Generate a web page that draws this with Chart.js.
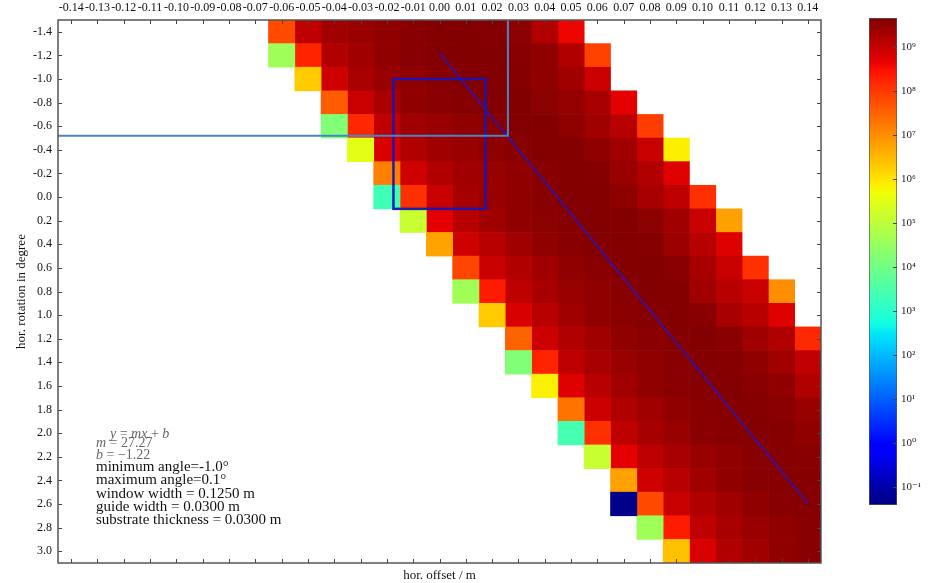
<!DOCTYPE html>
<html>
<head>
<meta charset="utf-8">
<script src="https://cdn.jsdelivr.net/npm/chart.js@4.4.0/dist/chart.umd.min.js"></script>
<style>
    html, body { margin: 0; padding: 0; background: #fff; }
    #wrap { position: relative; width: 935px; height: 583px; overflow: hidden; }
    #heatmap { position: absolute; left: 0; top: 0; }
    #colorbar { position: absolute; left: 840px; top: 0; }
</style>
</head>
<body>
<div id="wrap">
    <canvas id="heatmap" width="935" height="583"></canvas>
    <canvas id="colorbar" width="95" height="583"></canvas>
</div>
<script>
// columns (hor. offset / m) and rows (hor. rotation in degree)
const offsets = [-0.14, -0.13, -0.12, -0.11, -0.10, -0.09, -0.08, -0.07, -0.06, -0.05, -0.04, -0.03, -0.02, -0.01,
    0.00, 0.01, 0.02, 0.03, 0.04, 0.05, 0.06, 0.07, 0.08, 0.09, 0.10, 0.11, 0.12, 0.13, 0.14];
const angles = [-1.4, -1.2, -1.0, -0.8, -0.6, -0.4, -0.2, 0.0, 0.2, 0.4, 0.6, 0.8, 1.0,
    1.2, 1.4, 1.6, 1.8, 2.0, 2.2, 2.4, 2.6, 2.8, 3.0];

// index of the first filled offset in each row
const first_offset_index = [8, 8, 9, 10, 10, 11, 12, 12, 13, 14, 15, 15, 16, 17, 17, 18, 19, 19, 20, 21, 21, 22, 23];

// log10 of the counts, one list per row, starting at first_offset_index
const log_counts = [
    [7.8, 9.05, 9.34, 9.42, 9.5, 9.58, 9.62, 9.64, 9.62, 9.55, 9.19, 8.6],
    [4.6, 8.25, 9.19, 9.34, 9.5, 9.58, 9.62, 9.64, 9.64, 9.58, 9.5, 9.19, 7.9],
    [6.3, 8.9, 9.27, 9.42, 9.5, 9.58, 9.62, 9.64, 9.6, 9.5, 9.34, 8.93],
    [7.6, 8.97, 9.27, 9.5, 9.56, 9.6, 9.64, 9.64, 9.55, 9.45, 9.27, 8.69],
    [4.2, 8.2, 9.05, 9.34, 9.42, 9.5, 9.58, 9.62, 9.64, 9.52, 9.34, 9.12, 7.95],
    [5.5, 8.81, 9.19, 9.34, 9.42, 9.52, 9.58, 9.62, 9.62, 9.5, 9.34, 8.97, 5.85],
    [7.17, 8.9, 9.19, 9.34, 9.42, 9.5, 9.58, 9.62, 9.6, 9.42, 9.19, 8.75],
    [3.33, 8.1, 8.97, 9.27, 9.42, 9.5, 9.58, 9.62, 9.62, 9.52, 9.27, 9.05, 8.1],
    [5.14, 8.69, 9.12, 9.34, 9.5, 9.55, 9.6, 9.62, 9.62, 9.55, 9.34, 8.97, 6.78],
    [6.75, 8.9, 9.12, 9.34, 9.5, 9.58, 9.62, 9.62, 9.6, 9.38, 9.12, 8.75],
    [7.86, 8.97, 9.19, 9.34, 9.5, 9.58, 9.62, 9.64, 9.58, 9.27, 8.97, 8.1],
    [4.62, 8.35, 9.05, 9.27, 9.42, 9.5, 9.58, 9.62, 9.62, 9.34, 9.12, 8.97, 7.0],
    [6.3, 8.81, 9.12, 9.34, 9.5, 9.56, 9.6, 9.62, 9.58, 9.27, 9.12, 8.75],
    [7.5, 8.93, 9.19, 9.34, 9.5, 9.56, 9.6, 9.62, 9.56, 9.34, 9.19, 8.2],
    [4.2, 8.25, 9.05, 9.27, 9.42, 9.5, 9.58, 9.62, 9.6, 9.5, 9.34, 9.05],
    [5.84, 8.75, 9.12, 9.34, 9.5, 9.56, 9.6, 9.62, 9.58, 9.5, 9.19],
    [7.3, 8.93, 9.19, 9.34, 9.5, 9.58, 9.6, 9.6, 9.56, 9.42],
    [3.4, 8.1, 9.05, 9.27, 9.42, 9.56, 9.6, 9.62, 9.6, 9.5],
    [5.14, 8.69, 9.05, 9.27, 9.42, 9.5, 9.58, 9.6, 9.58],
    [6.78, 8.9, 9.12, 9.34, 9.5, 9.58, 9.6, 9.6],
    [-1.33, 7.8, 8.97, 9.19, 9.34, 9.5, 9.58, 9.6],
    [4.6, 8.35, 9.05, 9.27, 9.42, 9.5, 9.58],
    [6.4, 8.81, 9.19, 9.34, 9.5, 9.58]
];

// colour scale range (log10) and colorbar ticks
const log_count_min = -1.41;
const log_count_max = 9.66;
const colorbar_ticks = [1e-1, 1e0, 1e1, 1e2, 1e3, 1e4, 1e5, 1e6, 1e7, 1e8, 1e9];

// fit line y = m x + b and the marked regions
const fit_m = 27.27;
const fit_b = -1.22;
const fit_x_range = [0.0, 0.14];
const guide_box_x = [-0.0175, 0.0175];
const guide_box_y = [-1.0, 0.1];
const cut_point = [0.026, -0.52];

const min_angle = -1.0;
const max_angle = 0.1;
const window_width = 0.125;
const guide_width = 0.03;
const substrate_thickness = 0.03;

const serif = "'Liberation Serif', 'DejaVu Serif', serif";

// matplotlib jet
const jet_segments = {
    r: [[0, 0], [0.35, 0], [0.66, 1], [0.89, 1], [1, 0.5]],
    g: [[0, 0], [0.125, 0], [0.375, 1], [0.64, 1], [0.91, 0], [1, 0]],
    b: [[0, 0.5], [0.11, 1], [0.34, 1], [0.65, 0], [1, 0]]
};

function interp(seg, t) {
    for (let i = 1; i < seg.length; i++) {
        if (t <= seg[i][0]) {
            const [t0, v0] = seg[i - 1];
            const [t1, v1] = seg[i];
            return v0 + (v1 - v0) * (t - t0) / (t1 - t0);
        }
    }
    return seg[seg.length - 1][1];
}

function jet(t) {
    t = Math.min(1, Math.max(0, t));
    const r = Math.round(255 * interp(jet_segments.r, t));
    const g = Math.round(255 * interp(jet_segments.g, t));
    const b = Math.round(255 * interp(jet_segments.b, t));
    return `rgb(${r}, ${g}, ${b})`;
}

function color_for(log_value) {
    return jet((log_value - log_count_min) / (log_count_max - log_count_min));
}

// one floating-bar dataset per offset column
const half_cell = (offsets[1] - offsets[0]) / 2;
const datasets = offsets.map((off, col) => {
    const data = [];
    const colors = [];
    angles.forEach((a, row) => {
        const k = col - first_offset_index[row];
        const v = k >= 0 ? log_counts[row][k] : undefined;
        if (v !== undefined) {
            data.push([off - half_cell, off + half_cell]);
            colors.push(color_for(v));
        } else {
            data.push(null);
            colors.push('rgba(0,0,0,0)');
        }
    });
    return {
        data: data,
        backgroundColor: colors,
        borderWidth: 0,
        grouped: false,
        categoryPercentage: 1,
        barPercentage: 1
    };
});

function angle_to_index(a) {
    return (a - angles[0]) / (angles[1] - angles[0]);
}

function draw_math(ctx, text, x, y, size) {
    // letters italic, everything else upright
    let px = x;
    for (const ch of text) {
        const italic = /[a-z]/.test(ch);
        ctx.font = (italic ? 'italic ' : '') + size + 'px ' + serif;
        ctx.fillText(ch, px, y);
        px += ctx.measureText(ch).width;
    }
}

const overlay_plugin = {
    id: 'overlays',
    afterDatasetsDraw(chart) {
        const {ctx, chartArea: area, scales: {x, y}} = chart;
        const ypx = a => y.getPixelForValue(angle_to_index(a));
        ctx.save();

        // fit line
        ctx.strokeStyle = 'rgba(40, 20, 190, 0.8)';
        ctx.lineWidth = 2;
        ctx.beginPath();
        ctx.moveTo(x.getPixelForValue(fit_x_range[0]), ypx(fit_m * fit_x_range[0] + fit_b));
        ctx.lineTo(x.getPixelForValue(fit_x_range[1]), ypx(fit_m * fit_x_range[1] + fit_b));
        ctx.stroke();

        // guide box
        ctx.strokeStyle = 'rgba(25, 20, 180, 0.95)';
        ctx.lineWidth = 2.5;
        const bx0 = x.getPixelForValue(guide_box_x[0]);
        const bx1 = x.getPixelForValue(guide_box_x[1]);
        const by0 = ypx(guide_box_y[0]);
        const by1 = ypx(guide_box_y[1]);
        ctx.strokeRect(bx0, by0, bx1 - bx0, by1 - by0);

        // cut lines
        ctx.strokeStyle = '#4a84c6';
        ctx.lineWidth = 2;
        const cx = x.getPixelForValue(cut_point[0]);
        const cy = ypx(cut_point[1]);
        ctx.beginPath();
        ctx.moveTo(area.left, cy);
        ctx.lineTo(cx, cy);
        ctx.lineTo(cx, area.top);
        ctx.stroke();

        // info text
        const tx = area.left + 38;
        const ty = ypx(2.0);
        ctx.textBaseline = 'middle';
        ctx.fillStyle = '#666';
        draw_math(ctx, 'y = mx + b', tx + 14, ty + 1, 14);
        draw_math(ctx, 'm = ' + fit_m.toFixed(2), tx, ty + 10, 14);
        draw_math(ctx, 'b = \u2212' + Math.abs(fit_b).toFixed(2), tx, ty + 22, 14);
        ctx.fillStyle = '#111';
        ctx.font = '15px ' + serif;
        const lines = [
            'minimum angle=' + min_angle.toFixed(1) + '\u00b0',
            'maximum angle=' + max_angle.toFixed(1) + '\u00b0',
            'window width = ' + window_width.toFixed(4) + ' m',
            'guide width = ' + guide_width.toFixed(4) + ' m',
            'substrate thickness = ' + substrate_thickness.toFixed(4) + ' m'
        ];
        const dys = [34, 47, 61, 74, 87];
        lines.forEach((s, i) => ctx.fillText(s, tx, ty + dys[i]));
        ctx.restore();
    },
    afterDraw(chart) {
        const {ctx, chartArea: area, scales: {x, y}} = chart;
        ctx.save();
        ctx.strokeStyle = '#444';
        ctx.lineWidth = 1;
        ctx.beginPath();
        x.ticks.forEach(t => {
            const px = Math.round(x.getPixelForValue(t.value)) + 0.5;
            ctx.moveTo(px, area.top); ctx.lineTo(px, area.top + 4);
            ctx.moveTo(px, area.bottom); ctx.lineTo(px, area.bottom - 4);
        });
        y.ticks.forEach((t, i) => {
            const py = Math.round(y.getPixelForTick(i)) + 0.5;
            ctx.moveTo(area.left, py); ctx.lineTo(area.left + 4, py);
            ctx.moveTo(area.right, py); ctx.lineTo(area.right - 4, py);
        });
        ctx.stroke();
        ctx.strokeStyle = '#555';
        ctx.lineWidth = 1.5;
        ctx.strokeRect(area.left, area.top, area.right - area.left, area.bottom - area.top);
        ctx.restore();
    }
};

new Chart(document.getElementById('heatmap'), {
    type: 'bar',
    data: {
        labels: angles.map(a => a.toFixed(1)),
        datasets: datasets
    },
    options: {
        indexAxis: 'y',
        responsive: false,
        animation: false,
        layout: { padding: { left: 0, right: 114, top: 0, bottom: 0 } },
        plugins: {
            legend: { display: false },
            tooltip: { enabled: false }
        },
        scales: {
            x: {
                type: 'linear',
                position: 'top',
                min: -0.145,
                max: 0.145,
                grid: { display: false, drawTicks: false },
                border: { display: false },
                afterBuildTicks: s => { s.ticks = offsets.map(v => ({ value: v })); },
                afterFit: s => { s.height = 20; },
                ticks: {
                    autoSkip: false,
                    maxRotation: 0,
                    minRotation: 0,
                    padding: 5,
                    color: '#111',
                    font: { family: serif, size: 12 },
                    callback: v => v.toFixed(2)
                }
            },
            xBottom: {
                type: 'linear',
                position: 'bottom',
                min: -0.145,
                max: 0.145,
                grid: { display: false, drawTicks: false },
                border: { display: false },
                ticks: { display: false },
                afterFit: s => { s.height = 20; },
                title: {
                    display: true,
                    text: 'hor. offset / m',
                    color: '#111',
                    font: { family: serif, size: 13 },
                    padding: { top: 0, bottom: 0 }
                }
            },
            y: {
                type: 'category',
                position: 'left',
                offset: true,
                grid: { display: false, drawTicks: false },
                border: { display: false },
                afterFit: s => { s.width = 58; },
                ticks: {
                    autoSkip: false,
                    padding: 6,
                    color: '#111',
                    font: { family: serif, size: 12 }
                },
                title: {
                    display: true,
                    text: 'hor. rotation in degree',
                    color: '#111',
                    font: { family: serif, size: 13 },
                    padding: { top: 14, bottom: 0 }
                }
            }
        }
    },
    plugins: [overlay_plugin]
});

// colorbar
const superscripts = { '-': '\u207b', '0': '\u2070', '1': '\u00b9', '2': '\u00b2', '3': '\u00b3', '4': '\u2074',
    '5': '\u2075', '6': '\u2076', '7': '\u2077', '8': '\u2078', '9': '\u2079' };

const colorbar_plugin = {
    id: 'colorbarTicks',
    afterDraw(chart) {
        const {ctx, chartArea: area, scales: {y}} = chart;
        ctx.save();
        ctx.strokeStyle = '#444';
        ctx.lineWidth = 1;
        ctx.beginPath();
        colorbar_ticks.forEach(v => {
            const py = Math.round(y.getPixelForValue(v)) + 0.5;
            ctx.moveTo(area.right - 4, py); ctx.lineTo(area.right, py);
        });
        ctx.stroke();
        ctx.restore();
    }
};

function colorbar_fill(c) {
    const chart = c.chart;
    const y = chart.scales.y;
    const fallback = '#800000';
    if (!y || !chart.chartArea) return fallback;
    const y0 = y.getPixelForValue(Math.pow(10, log_count_min));
    const y1 = y.getPixelForValue(Math.pow(10, log_count_max));
    if (!isFinite(y0) || !isFinite(y1) || y0 === y1) return fallback;
    const grad = chart.ctx.createLinearGradient(0, y0, 0, y1);
    [0, 0.11, 0.125, 0.34, 0.35, 0.375, 0.5, 0.64, 0.65, 0.66, 0.75, 0.89, 0.91, 1].forEach(t => grad.addColorStop(t, jet(t)));
    return grad;
}

new Chart(document.getElementById('colorbar'), {
    type: 'bar',
    data: {
        labels: [''],
        datasets: [{
            data: [[Math.pow(10, log_count_min), Math.pow(10, log_count_max)]],
            backgroundColor: colorbar_fill,
            borderColor: '#555',
            borderWidth: 1,
            borderSkipped: false,
            categoryPercentage: 1,
            barPercentage: 1
        }]
    },
    options: {
        responsive: false,
        animation: false,
        layout: { padding: { left: 29, right: 0, top: 18, bottom: 78 } },
        plugins: {
            legend: { display: false },
            tooltip: { enabled: false }
        },
        scales: {
            x: { display: false },
            y: {
                type: 'logarithmic',
                position: 'right',
                min: Math.pow(10, log_count_min),
                max: Math.pow(10, log_count_max),
                grid: { display: false, drawTicks: false },
                border: { display: false },
                afterBuildTicks: s => { s.ticks = colorbar_ticks.map(v => ({ value: v })); },
                afterFit: s => { s.width = 38; },
                ticks: {
                    autoSkip: false,
                    padding: 4,
                    color: '#222',
                    font: { family: serif, size: 11 },
                    callback: v => '10' + String(Math.round(Math.log10(v))).split('').map(ch => superscripts[ch]).join('')
                }
            }
        }
    },
    plugins: [colorbar_plugin]
});
</script>
</body>
</html>
